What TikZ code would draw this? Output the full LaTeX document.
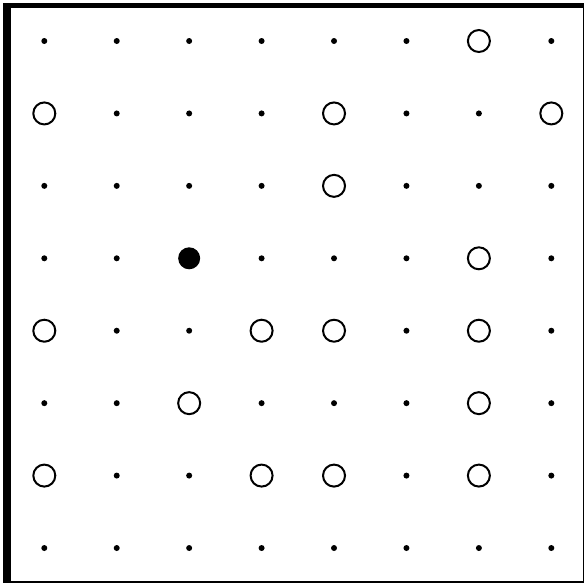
\documentclass[tikz,border=0pt]{standalone}
\begin{document}
\begin{tikzpicture}[x=1pt,y=-1pt,
  dotnode/.style={circle,fill=black,inner sep=0pt,minimum size=6pt},
  opennode/.style={circle,draw=black,line width=2pt,fill=white,inner sep=0pt,minimum size=22pt},
  fullnode/.style={circle,fill=black,inner sep=0pt,minimum size=22pt}]
\useasboundingbox (0,0) rectangle (585,584);
\fill[white] (0,0) rectangle (585,584);
% frame
\draw[line width=1.5pt] (583.5,3) -- (583.5,582.5);
\draw[line width=2pt] (3,582) -- (584,582);
\draw[line width=5.5pt] (3,5.5) -- (584,5.5);
\draw[line width=8pt] (7,3) -- (7,583);
% grid
\foreach \r in {0,...,7}{
  \foreach \c in {0,...,7}{
    \node[dotnode] (d\r\c) at ({44.3+72.43*\c},{41+72.43*\r}) {};
  }
}
\foreach \r/\c in {0/6, 1/0, 1/4, 1/7, 2/4, 3/6, 4/0, 4/3, 4/4, 4/6, 5/2, 5/6, 6/0, 6/3, 6/4, 6/6}{
  \node[opennode] (o\r\c) at (d\r\c) {};
}
\node[fullnode] (f32) at (d32) {};
\end{tikzpicture}
\end{document}
